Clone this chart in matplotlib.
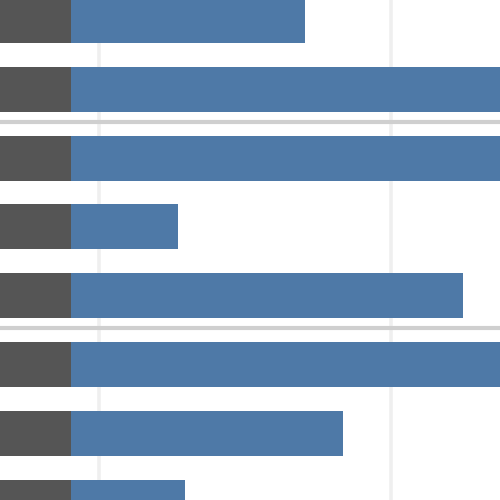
import matplotlib
matplotlib.use("Agg")
import matplotlib.pyplot as plt

# Data
rows = ["A", "B", "C", "D", "E", "F", "G", "H"]
label_width = [71, 71, 71, 71, 71, 71, 71, 71]
values = [305, 540, 540, 178, 463, 540, 343, 185]
grid_x = [98.5, 390.5]
separators = [1.476, 4.468]

fig = plt.figure(figsize=(5, 5), dpi=100)
ax = fig.add_axes([0, 0, 1, 1])

ypos = list(range(len(rows)))
for x in grid_x:
    ax.axvline(x, color="#efefef", lw=2.6, zorder=0)
for s in separators:
    ax.axhline(s, color="#cfcfcf", lw=3, zorder=1)

ax.barh(ypos, label_width, height=0.654, color="#555555", left=0, zorder=2)
ax.barh(ypos, [v - w for v, w in zip(values, label_width)], left=label_width,
        height=0.654, color="#4e79a7", zorder=2)

ax.set_xlim(0, 500)
ax.set_ylim(6.966, -0.296)
ax.axis("off")

fig.savefig("out.png", dpi=100)
